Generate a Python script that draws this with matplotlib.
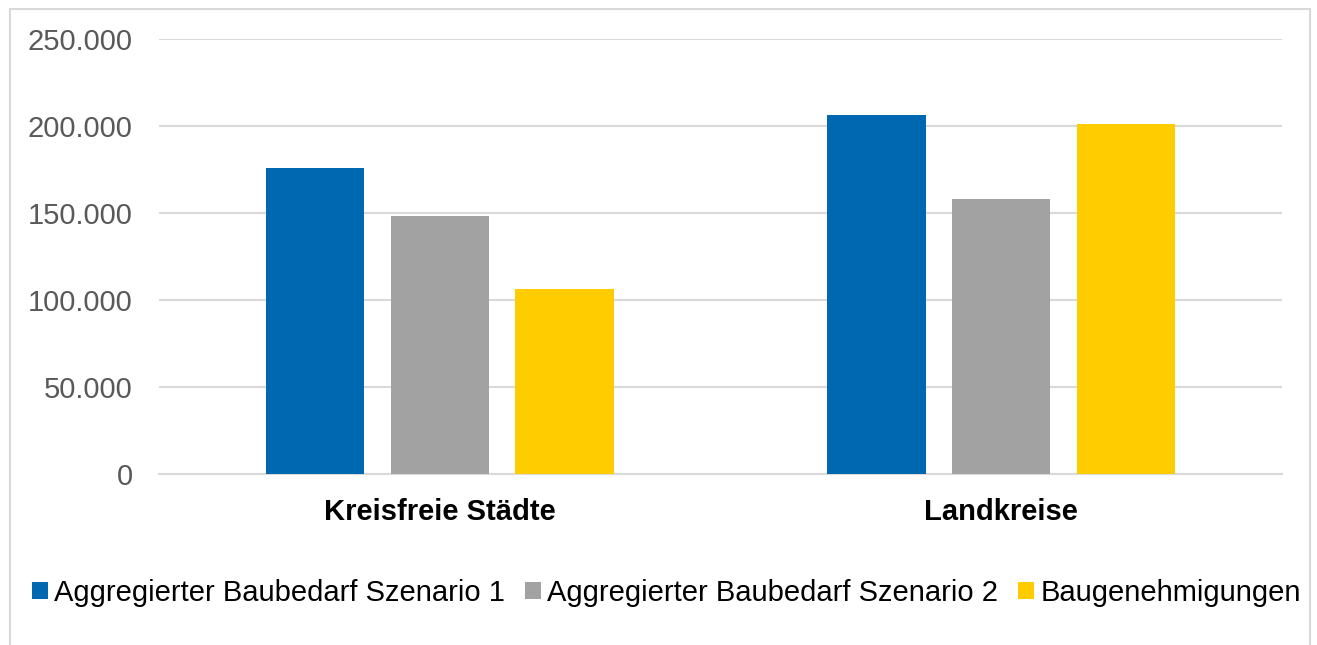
import matplotlib

matplotlib.use("Agg")
import matplotlib.pyplot as plt
import numpy as np
from matplotlib.patches import Rectangle
from matplotlib.ticker import FuncFormatter

categories = ["Kreisfreie Städte", "Landkreise"]
series_names = [
    "Aggregierter Baubedarf Szenario 1",
    "Aggregierter Baubedarf Szenario 2",
    "Baugenehmigungen",
]
szenario_1 = [176000, 206500]
szenario_2 = [148000, 158000]
baugenehmigungen = [106500, 201200]
yticks = [0, 50000, 100000, 150000, 200000, 250000]

colors = ["#0068B0", "#A2A2A2", "#FFCC00"]

plt.rcParams["font.family"] = ["Liberation Sans", "DejaVu Sans"]

fig = plt.figure(figsize=(13.17, 6.45), dpi=100)
ax = fig.add_axes([159 / 1317, 1 - 474 / 645, 1123 / 1317, 435 / 645])

x = np.arange(len(categories))
step = 0.222
width = 0.175
for i, (name, vals) in enumerate(zip(series_names, [szenario_1, szenario_2, baugenehmigungen])):
    ax.bar(x + (i - 1) * step, vals, width=width, color=colors[i], label=name, zorder=3)

ax.set_xlim(-0.5, 1.5)
ax.set_ylim(0, 250000)
ax.set_yticks(yticks)
ax.yaxis.set_major_formatter(FuncFormatter(lambda v, _: f"{int(v):,}".replace(",", ".")))
ax.set_xticks(x)
ax.set_xticklabels(categories, fontsize=21, fontweight="bold", color="black")
ax.tick_params(axis="y", length=0, pad=19, labelsize=21, labelcolor="#595959")
ax.tick_params(axis="x", length=0, pad=17)
ax.grid(axis="y", color="#D9D9D9", linewidth=1.5, zorder=0)
for side in ["top", "left", "right"]:
    ax.spines[side].set_visible(False)
ax.spines["bottom"].set_color("#D9D9D9")
ax.spines["bottom"].set_linewidth(1.5)

fig.legend(
    loc="center",
    bbox_to_anchor=(0.506, 1 - 593 / 645),
    ncol=3,
    frameon=False,
    fontsize=21,
    handlelength=0.55,
    handleheight=0.55,
    handletextpad=0.2,
    columnspacing=0.7,
)

# grauer Rahmen um das ganze Diagramm
fig.patches.append(
    Rectangle(
        (10 / 1317, -0.1),
        1300 / 1317,
        1.1 - 9 / 645,
        transform=fig.transFigure,
        fill=False,
        edgecolor="#D9D9D9",
        linewidth=1.5,
    )
)

fig.savefig("out.png", dpi=100)
